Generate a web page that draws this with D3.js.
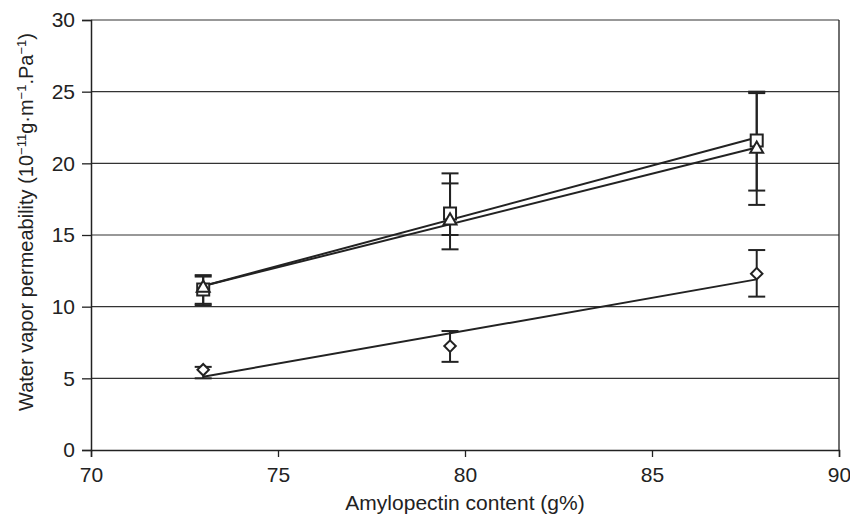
<!DOCTYPE html>
<html>
<head>
<meta charset="utf-8">
<script src="https://cdn.jsdelivr.net/npm/d3@7"></script>
<style>
  body { margin: 0; background: #fff; }
  text { font-family: "Liberation Sans", Arial, sans-serif; fill: #222; }
</style>
</head>
<body>
<svg id="chart"></svg>
<script>
// data
const amylopectin = [73.0, 79.6, 87.8]

const squareVals = [11.2, 16.5, 21.6]
const squareHi = [12.2, 19.3, 25.0]
const squareLo = [10.1, 14.0, 18.1]

const triangleVals = [11.3, 16.0, 21.0]
const triangleHi = [12.1, 18.6, 24.9]
const triangleLo = [10.2, 15.0, 17.1]

const diamondVals = [5.6, 7.25, 12.3]
const diamondHi = [5.8, 8.3, 13.95]
const diamondLo = [5.0, 6.15, 10.7]

const xTicks = [70, 75, 80, 85, 90]
const yTicks = [0, 5, 10, 15, 20, 25, 30]

const series = [
    { name: 'square', shape: d3.symbolSquare, size: 144, rot: 0, vals: squareVals, hi: squareHi, lo: squareLo },
    { name: 'triangle', shape: d3.symbolTriangle, size: 72, rot: 0, vals: triangleVals, hi: triangleHi, lo: triangleLo },
    { name: 'diamond', shape: d3.symbolSquare, size: 66, rot: 45, vals: diamondVals, hi: diamondHi, lo: diamondLo }
]

// layout
const width = 850, height = 516
const margin = { top: 20, right: 11, bottom: 66, left: 91 }
const ink = '#222'

const svg = d3.select('#chart').attr('width', width).attr('height', height)

const x = d3.scaleLinear().domain([70, 90]).range([margin.left, width - margin.right])
const y = d3.scaleLinear().domain([0, 30]).range([height - margin.bottom, margin.top])

// gridlines
svg.append('g')
    .selectAll('line')
    .data(yTicks.filter(t => t > 0))
    .enter()
    .append('line')
    .attr('x1', x(70)).attr('x2', x(90))
    .attr('y1', d => y(d)).attr('y2', d => y(d))
    .attr('stroke', '#333').attr('stroke-width', 1.2)

// right border
svg.append('line')
    .attr('x1', x(90)).attr('x2', x(90))
    .attr('y1', y(0)).attr('y2', y(30))
    .attr('stroke', ink).attr('stroke-width', 1.3)

// axes
const xAxis = svg.append('g')
    .attr('transform', `translate(0,${y(0)})`)
    .call(d3.axisBottom(x).tickValues(xTicks).tickSize(7))
const yAxis = svg.append('g')
    .attr('transform', `translate(${x(70)},0)`)
    .call(d3.axisLeft(y).tickValues(yTicks).tickSize(9).tickPadding(7))

;[xAxis, yAxis].forEach(g => {
    g.select('.domain').attr('stroke', ink).attr('stroke-width', 1.5)
    g.selectAll('.tick line').attr('stroke', ink).attr('stroke-width', 1.3)
    g.selectAll('.tick text').attr('font-size', 21).style('fill', ink)
})
xAxis.selectAll('.tick text').attr('y', 32).attr('dy', 0)

// least squares trend line per series
const fit = vals => {
    const mx = d3.mean(amylopectin), my = d3.mean(vals)
    const sxy = d3.sum(amylopectin, (v, i) => (v - mx) * (vals[i] - my))
    const sxx = d3.sum(amylopectin, v => (v - mx) ** 2)
    const b = sxy / sxx
    return v => my + b * (v - mx)
}

const plot = svg.append('g')

series.forEach(s => {
    const f = fit(s.vals)
    const ends = d3.extent(amylopectin)
    plot.append('line')
        .attr('x1', x(ends[0])).attr('y1', y(f(ends[0])))
        .attr('x2', x(ends[1])).attr('y2', y(f(ends[1])))
        .attr('stroke', ink).attr('stroke-width', 2)
})

// error bars
series.forEach(s => {
    const g = plot.append('g').attr('stroke', ink).attr('stroke-width', 2)
    amylopectin.forEach((a, i) => {
        const cx = x(a)
        g.append('line').attr('x1', cx).attr('x2', cx).attr('y1', y(s.lo[i])).attr('y2', y(s.hi[i]))
        ;[s.lo[i], s.hi[i]].forEach(v => {
            g.append('line').attr('x1', cx - 8.5).attr('x2', cx + 8.5).attr('y1', y(v)).attr('y2', y(v))
        })
    })
})

// markers
series.forEach(s => {
    plot.append('g')
        .selectAll('path')
        .data(s.vals)
        .enter()
        .append('path')
        .attr('d', d3.symbol().type(s.shape).size(s.size))
        .attr('transform', (d, i) => `translate(${x(amylopectin[i])},${y(d)}) rotate(${s.rot})`)
        .attr('fill', '#fff')
        .attr('stroke', ink)
        .attr('stroke-width', 2)
})

// axis titles
svg.append('text')
    .attr('x', (x(70) + x(90)) / 2)
    .attr('y', 510)
    .attr('text-anchor', 'middle')
    .attr('font-size', 21)
    .text('Amylopectin content (g%)')

const yTitle = svg.append('text')
    .attr('transform', `translate(33,222) rotate(-90)`)
    .attr('text-anchor', 'middle')
    .attr('font-size', 20)
const sup = (txt) => {
    yTitle.append('tspan').attr('dy', -7).attr('font-size', 13).text(txt)
}
yTitle.append('tspan').text('Water vapor permeability (10')
sup('−11')
yTitle.append('tspan').attr('dy', 7).text('g·m')
sup('−1')
yTitle.append('tspan').attr('dy', 7).text('.Pa')
sup('−1')
yTitle.append('tspan').attr('dy', 7).text(')')
</script>
</body>
</html>
